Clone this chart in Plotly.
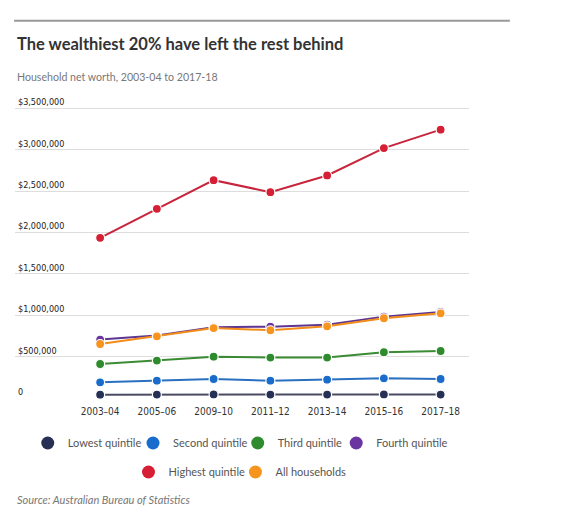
import plotly.graph_objects as go

years = ["2003–04", "2005–06", "2009–10", "2011–12", "2013–14", "2015–16", "2017–18"]

lowest = [40000, 42000, 43000, 41000, 42000, 43000, 42000]
second = [190000, 210000, 230000, 210000, 222000, 238000, 230000]
third = [411000, 452000, 500000, 489000, 489000, 553000, 568000]
fourth = [706000, 755000, 855000, 863000, 887000, 984000, 1040000]
highest = [1937000, 2288000, 2634000, 2489000, 2691000, 3022000, 3245000]
all_households = [653000, 746000, 846000, 819000, 867000, 964000, 1024000]

tick_vals = [0, 500000, 1000000, 1500000, 2000000, 2500000, 3000000, 3500000]
tick_text = ["0", "$500,000", "$1,000,000", "$1,500,000", "$2,000,000",
             "$2,500,000", "$3,000,000", "$3,500,000"]

series = [
    ("Lowest quintile", lowest, "#4a4b62", "#263055"),
    ("Second quintile", second, "#2a70c0", "#1a6ccc"),
    ("Third quintile", third, "#3b8a34", "#2e8b2e"),
    ("Fourth quintile", fourth, "#5e3590", "#6a35a0"),
    ("Highest quintile", highest, "#c8243c", "#d61f35"),
    ("All households", all_households, "#f28c1a", "#f7941d"),
]

# legend entry placement (container fractions): two centred rows
legend_x = [0.049, 0.235, 0.420, 0.594, 0.227, 0.416]
legend_y = [0.1245, 0.1245, 0.1245, 0.1245, 0.0672, 0.0672]

fig = go.Figure()
for name, vals, lc, mc in series:
    fig.add_trace(go.Scatter(
        x=years, y=vals, name=name, mode="lines+markers",
        line=dict(color=lc, width=2),
        marker=dict(color=mc, size=9, line=dict(color="white", width=1.2)),
        showlegend=False, cliponaxis=False, hoverinfo="skip",
    ))
legend_layout = {}
for i, (name, vals, lc, mc) in enumerate(series):
    key = "legend" if i == 0 else f"legend{i + 1}"
    fig.add_trace(go.Scatter(
        x=[None], y=[None], name=name, mode="markers",
        marker=dict(color=mc, size=13),
        showlegend=True, legend=key,
    ))
    legend_layout[key] = dict(
        orientation="h", xref="container", yref="container",
        x=legend_x[i], y=legend_y[i], xanchor="left", yanchor="middle",
        font=dict(family="Lato, 'PT Sans', sans-serif", size=11, color="#555555"),
        itemwidth=30, bgcolor="rgba(0,0,0,0)",
        itemclick=False, itemdoubleclick=False,
    )

fig.update_layout(
    width=566, height=506,
    margin=dict(l=15, r=97, t=91.9, b=107.5, autoexpand=False),
    paper_bgcolor="white", plot_bgcolor="white",
    xaxis=dict(
        type="category", range=[-1.5, 6.5], showgrid=False, showline=False,
        zeroline=False, ticks="", automargin=False, ticklabelstandoff=6,
        tickfont=dict(family="'DejaVu Sans Condensed', 'Liberation Sans Narrow', sans-serif", size=10, color="#333333"),
    ),
    yaxis=dict(
        range=[0, 3700000], tickvals=tick_vals, ticktext=tick_text,
        ticklabelposition="inside top", showgrid=True, gridcolor="#dddddd",
        gridwidth=1, zeroline=False, showline=False, ticks="", automargin=False,
        tickfont=dict(family="'DejaVu Sans Condensed', 'Liberation Sans Narrow', sans-serif", size=9, color="#222222"),
    ),
    shapes=[dict(type="line", xref="paper", yref="paper",
                 x0=-0.002, x1=1.09, y0=1.233, y1=1.233,
                 line=dict(color="#999999", width=2))],
    annotations=[
        dict(text="<b>The wealthiest 20% have left the rest behind</b>",
             xref="paper", yref="paper", x=0, y=1.156, xanchor="left", yanchor="middle",
             showarrow=False, font=dict(family="Lato, 'PT Sans', sans-serif", size=16.5, color="#333333")),
        dict(text="Household net worth, 2003-04 to 2017-18",
             xref="paper", yref="paper", x=0, y=1.048, xanchor="left", yanchor="middle",
             showarrow=False, font=dict(family="Lato, 'PT Sans', sans-serif", size=10.6, color="#777777")),
        dict(text="<i>Source: Australian Bureau of Statistics</i>",
             xref="paper", yref="paper", x=0, y=-0.331, xanchor="left", yanchor="middle",
             showarrow=False, font=dict(family="Lato, 'PT Sans', sans-serif", size=11, color="#777777")),
    ],
)
fig.update_layout(**legend_layout)

fig.write_html("out.html", config={"displayModeBar": False},
               post_script="document.body.style.margin='0';")
